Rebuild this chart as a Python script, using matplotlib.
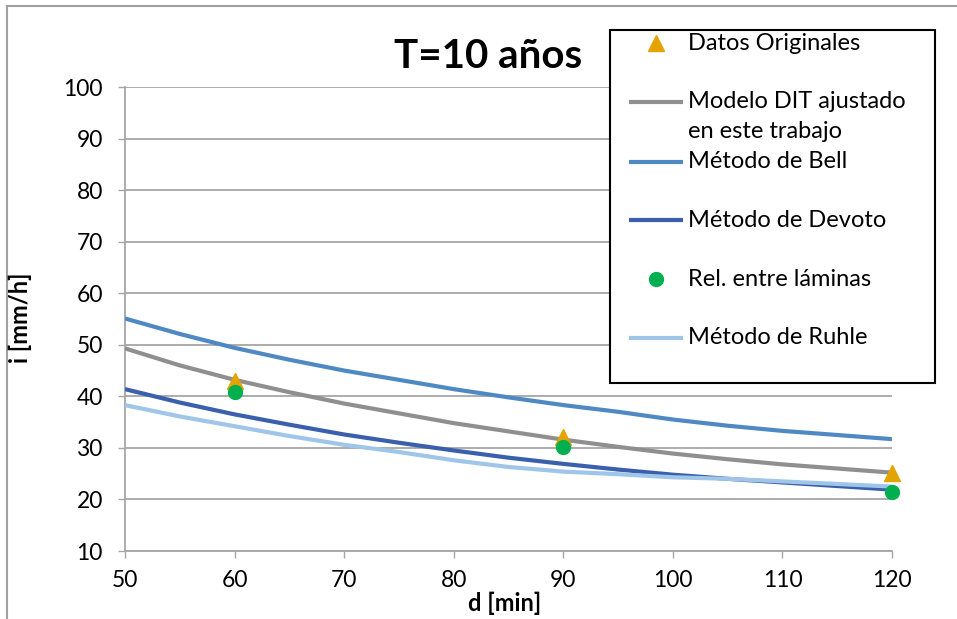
import matplotlib
matplotlib.use("Agg")
import matplotlib.pyplot as plt
from matplotlib.lines import Line2D
from matplotlib.patches import Rectangle

plt.rcParams['font.family'] = ['Lato', 'DejaVu Sans']

# Duration [min] and intensity [mm/h] for T = 10 years
d_curve = [50, 55, 60, 65, 70, 75, 80, 85, 90, 95, 100, 105, 110, 115, 120]
dit = [49.3, 46.0, 43.2, 40.8, 38.6, 36.7, 34.8, 33.2, 31.6, 30.2, 28.9, 27.8, 26.8, 26.0, 25.2]
bell = [55.1, 52.1, 49.4, 47.1, 45.0, 43.2, 41.4, 39.8, 38.3, 37.0, 35.5, 34.3, 33.3, 32.5, 31.7]
devoto = [41.4, 38.8, 36.5, 34.5, 32.6, 31.0, 29.5, 28.1, 26.9, 25.8, 24.8, 24.0, 23.3, 22.6, 21.9]
ruhle = [38.3, 36.1, 34.2, 32.3, 30.6, 29.2, 27.6, 26.3, 25.4, 24.9, 24.3, 24.0, 23.5, 23.0, 22.5]

d_points = [60, 90, 120]
datos_originales = [43.0, 32.1, 25.2]
rel_laminas = [40.8, 30.1, 21.4]

x_ticks = [50, 60, 70, 80, 90, 100, 110, 120]
y_ticks = [10, 20, 30, 40, 50, 60, 70, 80, 90, 100]

labels = ["Datos Originales", "Modelo DIT ajustado\nen este trabajo", "Método de Bell",
          "Método de Devoto", "Rel. entre láminas", "Método de Ruhle"]

C_TRI = "#e3a400"
C_DIT = "#8f8f8f"
C_BELL = "#4f89c4"
C_DEV = "#3a5fad"
C_CIR = "#00b050"
C_RUH = "#9fc5e8"
GRID = "#a6a6a6"

W, H = 957, 619
fig = plt.figure(figsize=(W / 100, H / 100), dpi=100)

def fx(px):
    return px / W

def fy(py):
    return 1 - py / H

ax = fig.add_axes([fx(125), fy(551), fx(892) - fx(125), fy(87) - fy(551)])

ax.plot(d_curve, dit, color=C_DIT, lw=3, zorder=3, solid_capstyle='butt')
ax.plot(d_curve, bell, color=C_BELL, lw=3, zorder=3, solid_capstyle='butt')
ax.plot(d_curve, devoto, color=C_DEV, lw=3, zorder=3, solid_capstyle='butt')
ax.plot(d_curve, ruhle, color=C_RUH, lw=3, zorder=3.5, solid_capstyle='butt')
ax.plot(d_points, datos_originales, ls='none', marker='^', ms=11, color=C_TRI,
        mec=C_TRI, zorder=5, clip_on=False)
ax.plot(d_points, rel_laminas, ls='none', marker='o', ms=10, color=C_CIR,
        mec=C_CIR, zorder=6, clip_on=False)

ax.set_xlim(50, 120)
ax.set_ylim(10, 100)
ax.set_xticks(x_ticks)
ax.set_yticks(y_ticks)
ax.set_xticklabels([str(v) for v in x_ticks])
ax.set_yticklabels([str(v) for v in y_ticks])
ax.tick_params(axis='both', direction='out', length=5, width=1, color=GRID,
               labelsize=16.5, labelcolor='black')
ax.tick_params(axis='y', pad=11)
ax.tick_params(axis='x', pad=9)
ax.grid(axis='y', color=GRID, lw=1.3, zorder=1)
ax.set_axisbelow(True)
for s in ['top', 'right']:
    ax.spines[s].set_visible(False)
for s in ['left', 'bottom']:
    ax.spines[s].set_color(GRID)
    ax.spines[s].set_linewidth(1.3)

fig.text(fx(488), fy(57), "T=10 años", ha='center', va='center',
         fontsize=29, fontweight='bold')
fig.text(fx(505), fy(603), "d [min]", ha='center', va='center',
         fontsize=17, fontweight='bold')
fig.text(fx(20), fy(318), "i [mm/h]", ha='center', va='center',
         fontsize=17, fontweight='bold', rotation=90)

# Outer frame (left and top edges)
fig.add_artist(Line2D([fx(7), fx(7)], [fy(6), 0], color="#a0a0a0", lw=1.5))
fig.add_artist(Line2D([fx(7), 1], [fy(6), fy(6)], color="#a0a0a0", lw=1.5))

# Legend box
fig.add_artist(Rectangle((fx(610), fy(383)), fx(935) - fx(610), fy(30) - fy(383),
                         fill=True, facecolor='white', edgecolor='black', lw=1.5,
                         transform=fig.transFigure, zorder=10))
entry_y = [43, 102, 162, 220, 279, 338]
styles = [('marker', '^', C_TRI, 11), ('line', None, C_DIT, None), ('line', None, C_BELL, None),
          ('line', None, C_DEV, None), ('marker', 'o', C_CIR, 10), ('line', None, C_RUH, None)]
for yy, lab, (kind, mk, col, ms) in zip(entry_y, labels, styles):
    if kind == 'line':
        fig.add_artist(Line2D([fx(629), fx(683)], [fy(yy), fy(yy)], color=col, lw=3,
                              zorder=11, solid_capstyle='butt'))
    else:
        fig.add_artist(Line2D([fx(656)], [fy(yy)], marker=mk, ms=ms, color=col,
                              mec=col, ls='none', zorder=11))
    first, *rest = lab.split("\n")
    fig.text(fx(688), fy(yy), first, ha='left', va='center', fontsize=17, zorder=12)
    for k, extra in enumerate(rest):
        fig.text(fx(688), fy(yy + 29 * (k + 1)), extra, ha='left', va='center',
                 fontsize=17, zorder=12)

fig.savefig("out.png", dpi=100, facecolor='white')
